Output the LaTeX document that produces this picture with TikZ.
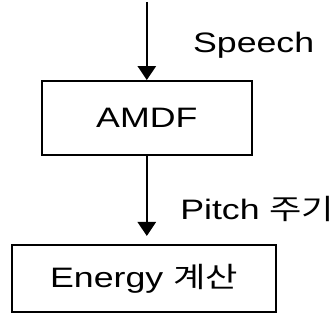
\documentclass[tikz,border=0pt]{standalone}
\usepackage{fontspec}
\setmainfont{Liberation Sans}[FakeStretch=1.27]
\newfontfamily\krfont{Noto Sans CJK KR}[FakeStretch=1.25]
\usetikzlibrary{arrows.meta,positioning}

\begin{document}
\begin{tikzpicture}[
  block/.style={draw, line width=1.3pt, font=\fontsize{20}{23}\selectfont,
    align=center, inner sep=0pt},
  lbl/.style={font=\fontsize{20}{23}\selectfont, anchor=base west, inner sep=0pt},
  >={Triangle[width=0.45cm, length=0.35cm]},
]
  \useasboundingbox (0,0) rectangle (8.4,8.0);

  % Input point (top)
  \coordinate (in) at (3.67,7.95);

  % AMDF block
  \node[block, minimum width=5.25cm, minimum height=1.85cm] (amdf) at (3.67,5.05)
    {AMDF};
  % Energy block
  \node[block, minimum width=6.6cm, minimum height=1.675cm] (energy) at (3.6,1.04)
    {Energy {\krfont 계산}};

  % Arrows
  \draw[->, line width=1.8pt] (in) -- (amdf.north);
  \draw[->, line width=1.8pt, shorten >=0.2cm] (amdf.south) -- (amdf.south |- energy.north);

  % Labels (right)
  \node[lbl] (speech) at (4.82,6.68) {Speech};
  \node[lbl] (pitch) at (4.5,2.5) {Pitch {\krfont 주기}};
\end{tikzpicture}
\end{document}
